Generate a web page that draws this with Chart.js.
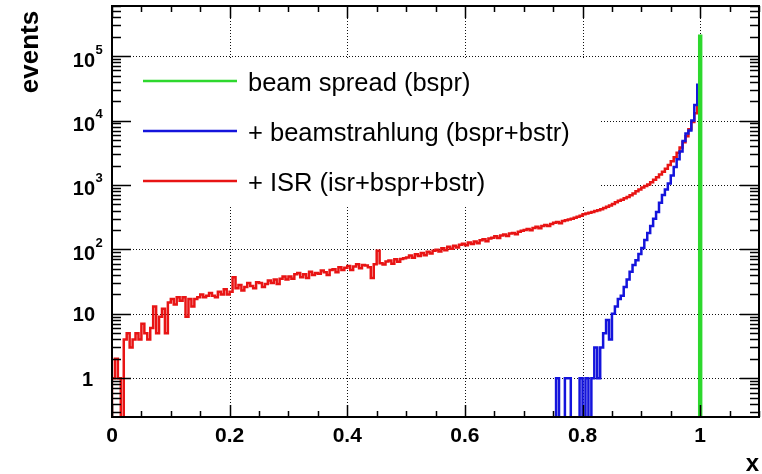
<!DOCTYPE html>
<html>
<head>
<meta charset="utf-8">
<script src="https://cdn.jsdelivr.net/npm/chart.js@4.4.1/dist/chart.umd.min.js"></script>
<style>
  body { margin: 0; background: #fff; }
  #wrap { width: 762px; height: 474px; }
</style>
</head>
<body>
<div id="wrap"><canvas id="chart" width="762" height="474"></canvas></div>
<script>
// histogram bins, 0.005 wide
const binWidth = 0.005;

// isr+bspr+bstr, bins from x = 0 to 1
const isrStart = 0;
const isrCounts = [
    1, 2, 1, 0, 4, 5, 3, 4, 5, 4,
    7, 5, 4, 6, 13, 5, 9, 12, 5, 15,
    17, 14, 18, 16, 18, 9, 17, 13, 17, 18,
    20, 18, 19, 21, 19, 18, 22, 20, 24, 20,
    22, 37, 25, 28, 23, 26, 30, 27, 25, 31,
    30, 26, 29, 33, 30, 34, 29, 35, 38, 34,
    38, 35, 41, 43, 37, 41, 36, 45, 40, 43,
    42, 47, 44, 40, 48, 49, 44, 53, 48, 52,
    55, 48, 54, 59, 51, 57, 56, 53, 36, 59,
    95, 61, 58, 65, 67, 60, 70, 64, 71, 73,
    75, 80, 74, 84, 79, 88, 81, 92, 86, 95,
    99, 93, 104, 97, 110, 102, 114, 107, 118, 122,
    116, 128, 121, 133, 125, 138, 143, 134, 148, 152,
    160, 150, 164, 170, 161, 176, 180, 172, 188, 195,
    200, 208, 198, 215, 224, 212, 231, 240, 230, 248,
    258, 266, 255, 275, 284, 292, 300, 310, 320, 334,
    350, 360, 370, 380, 395, 405, 420, 440, 460, 480,
    505, 540, 570, 590, 620, 650, 690, 740, 800, 850,
    910, 960, 1020, 1100, 1200, 1320, 1450, 1600, 1780, 2050,
    2340, 2700, 3160, 3800, 4600, 5700, 7300, 9500, 13000, 20000
];

// bspr+bstr, bins from x = 0.75 to 1
const bstrStart = 0.75;
const bstrCounts = [
    0, 1, 0, 0, 1, 1, 0, 0, 0, 1,
    0, 1, 0, 1, 3, 1, 3, 5, 8, 4,
    10, 13, 17, 19, 26, 34, 45, 57, 68, 85,
    105, 140, 180, 230, 300, 380, 530, 700, 850, 1050,
    1400, 1900, 2500, 3300, 4800, 6300, 7000, 10000, 17500, 36000
];

// bspr only: one narrow peak at x = 1
const bsprEdges = [0.9975, 1.0025];
const bsprCount = 210000;

const seriesNames = ['beam spread (bspr)', '+ beamstrahlung (bspr+bstr)', '+ ISR (isr+bspr+bstr)'];
const seriesColors = ['#2ed82e', '#1414dc', '#e81414'];

const xTicks = [0, 0.2, 0.4, 0.6, 0.8, 1];
const xTickLabels = ['0', '0.2', '0.4', '0.6', '0.8', '1'];
const yTicks = [1, 10, 100, 1000, 10000, 100000];
const yTickBase = ['1', '10', '10', '10', '10', '10'];
const yTickExp = ['', '', '2', '3', '4', '5'];

const yMin = 0.25, yMax = 6e5;
const floorValue = 0.1; // empty bins drop below the axis

const toSteps = (start, counts) => {
    const pts = [{x: start, y: floorValue}];
    counts.forEach((c, i) => pts.push({x: start + i * binWidth, y: c > 0 ? c : floorValue}));
    pts.push({x: start + counts.length * binWidth, y: floorValue});
    return pts;
};

const bsprPoints = [
    {x: bsprEdges[0], y: floorValue},
    {x: bsprEdges[0], y: bsprCount},
    {x: bsprEdges[1], y: floorValue}
];

const FONT = '"Liberation Sans", Arial, Helvetica, sans-serif';

const decorations = {
    id: 'decorations',
    beforeDatasetsDraw(chart) {
        const {ctx, chartArea: a, scales: {x, y}} = chart;
        ctx.save();
        ctx.strokeStyle = '#111';
        ctx.lineWidth = 1;
        ctx.setLineDash([1, 2]);
        ctx.beginPath();
        xTicks.slice(1).forEach(v => {
            const px = Math.round(x.getPixelForValue(v)) + 0.5;
            ctx.moveTo(px, a.top);
            ctx.lineTo(px, a.bottom);
        });
        yTicks.forEach(v => {
            const py = Math.round(y.getPixelForValue(v)) + 0.5;
            ctx.moveTo(a.left, py);
            ctx.lineTo(a.right, py);
        });
        ctx.stroke();
        ctx.setLineDash([]);
        // white legend box over the grid
        ctx.fillStyle = '#fff';
        ctx.fillRect(a.left + 2, 58, 486, 147);
        ctx.restore();
    },
    afterDatasetsDraw(chart) {
        const {ctx, chartArea: a, scales: {x, y}} = chart;
        ctx.save();
        ctx.strokeStyle = '#000';
        ctx.lineWidth = 1.5;
        ctx.beginPath();
        // x ticks every 0.05, top and bottom, pointing in
        for (let k = 0; k <= 22; k++) {
            const px = Math.round(x.getPixelForValue(k * 0.05)) + 0.5;
            const len = k % 4 === 0 ? 12 : 6;
            ctx.moveTo(px, a.bottom); ctx.lineTo(px, a.bottom - len);
            ctx.moveTo(px, a.top); ctx.lineTo(px, a.top + len);
        }
        // log y ticks, left and right
        for (let n = -1; n <= 5; n++) {
            for (let k = 1; k <= 9; k++) {
                const v = k * Math.pow(10, n);
                if (v < yMin || v > yMax) continue;
                const py = Math.round(y.getPixelForValue(v)) + 0.5;
                const len = k === 1 ? 19 : 9;
                ctx.moveTo(a.left, py); ctx.lineTo(a.left + len, py);
                ctx.moveTo(a.right, py); ctx.lineTo(a.right - len, py);
            }
        }
        ctx.stroke();
        ctx.lineWidth = 2;
        ctx.strokeRect(a.left, a.top, a.right - a.left, a.bottom - a.top);

        // tick labels
        ctx.fillStyle = '#000';
        ctx.textBaseline = 'alphabetic';
        ctx.font = 'bold 21px ' + FONT;
        ctx.textAlign = 'center';
        xTicks.forEach((v, i) => ctx.fillText(xTickLabels[i], x.getPixelForValue(v), 442));
        yTicks.forEach((v, i) => {
            const py = y.getPixelForValue(v);
            ctx.textAlign = 'right';
            ctx.font = 'bold 20px ' + FONT;
            if (yTickExp[i]) {
                ctx.fillText(yTickBase[i], 95, py + 10.5);
                ctx.textAlign = 'left';
                ctx.font = 'bold 13px ' + FONT;
                ctx.fillText(yTickExp[i], 95.5, py - 2.5);
            } else {
                ctx.fillText(yTickBase[i], yTickBase[i].length > 1 ? 95 : 93, py + 7.5);
            }
        });

        // axis titles
        ctx.font = 'bold 24px ' + FONT;
        ctx.textAlign = 'right';
        ctx.fillText('x', 759, 471);
        ctx.save();
        ctx.translate(38, 52);
        ctx.rotate(-Math.PI / 2);
        ctx.textAlign = 'center';
        ctx.font = 'bold 26px ' + FONT;
        ctx.fillText('events', 0, 0);
        ctx.restore();

        // legend
        const rows = [81, 131, 181];
        ctx.font = '25.5px ' + FONT;
        ctx.textAlign = 'left';
        rows.forEach((ry, i) => {
            ctx.strokeStyle = seriesColors[i];
            ctx.lineWidth = 2.5;
            ctx.beginPath();
            ctx.moveTo(143, ry);
            ctx.lineTo(237, ry);
            ctx.stroke();
            ctx.fillStyle = '#000';
            ctx.fillText(seriesNames[i], 248, ry + 10);
        });
        ctx.restore();
    }
};

new Chart(document.getElementById('chart'), {
    type: 'line',
    data: {
        datasets: [
            {
                label: seriesNames[0],
                data: bsprPoints,
                borderColor: seriesColors[0],
                backgroundColor: seriesColors[0],
                borderWidth: 1.5,
                fill: 'start',
                stepped: 'before'
            },
            {
                label: seriesNames[1],
                data: toSteps(bstrStart, bstrCounts),
                borderColor: seriesColors[1],
                borderWidth: 2.5,
                fill: false,
                stepped: 'before'
            },
            {
                label: seriesNames[2],
                data: toSteps(isrStart, isrCounts),
                borderColor: seriesColors[2],
                borderWidth: 2.5,
                fill: false,
                stepped: 'before'
            }
        ]
    },
    options: {
        responsive: false,
        animation: false,
        layout: { padding: { left: 112, top: 6, right: 3, bottom: 57 } },
        elements: { point: { radius: 0 }, line: { tension: 0 } },
        scales: {
            x: { type: 'linear', min: 0, max: 1.1, display: false },
            y: { type: 'logarithmic', min: yMin, max: yMax, display: false }
        },
        plugins: { legend: { display: false }, tooltip: { enabled: false } }
    },
    plugins: [decorations]
});
</script>
</body>
</html>
